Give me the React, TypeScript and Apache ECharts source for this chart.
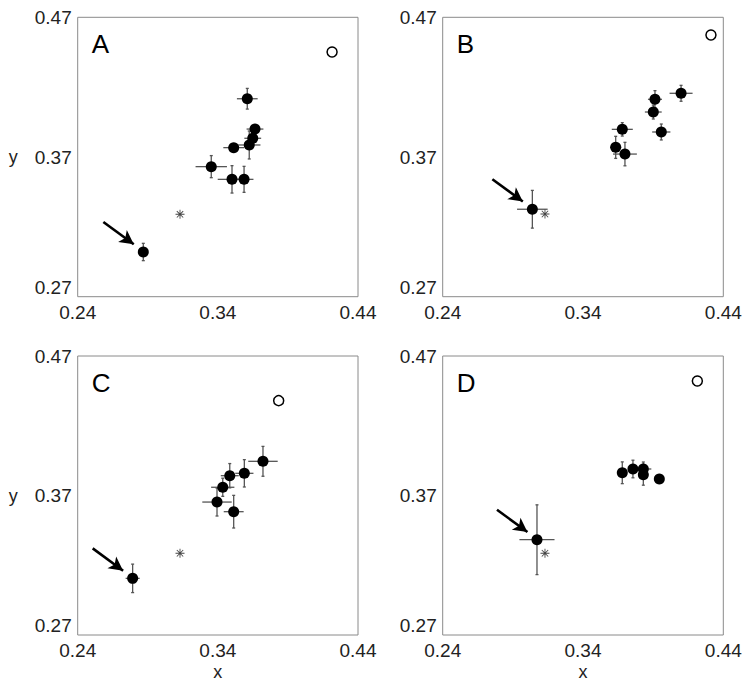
import React, { useEffect, useRef } from "react";
import * as echarts from "echarts";

// Axis ranges and tick labels
const xTicks = [0.24, 0.34, 0.44];
const yTicks = [0.27, 0.37, 0.47];
const panelLabels = ["A", "B", "C", "D"];

// Each point: [x, y, xErr, yErr]
const panelA_points = [
  [0.361, 0.4117, 0.0074, 0.0074],
  [0.3665, 0.39, 0.006, 0.003],
  [0.3649, 0.3834, 0.006, 0.003],
  [0.3624, 0.3786, 0.008, 0.01],
  [0.3513, 0.3767, 0.0074, 0.002],
  [0.3353, 0.3631, 0.0112, 0.0079],
  [0.3501, 0.354, 0.0102, 0.0098],
  [0.3587, 0.354, 0.0067, 0.0093],
];
const panelA_arrowPoint = [0.2868, 0.302, 0.003, 0.0062];
const panelA_star = [0.313, 0.329];
const panelA_open = [0.4215, 0.4452];

const panelB_points = [
  [0.4099, 0.4156, 0.0082, 0.0057],
  [0.3913, 0.4113, 0.005, 0.0062],
  [0.3901, 0.4022, 0.006, 0.005],
  [0.368, 0.3898, 0.0075, 0.0048],
  [0.3958, 0.3879, 0.0065, 0.0057],
  [0.3633, 0.3769, 0.004, 0.0079],
  [0.3699, 0.3721, 0.0085, 0.0084],
];
const panelB_arrowPoint = [0.3039, 0.3326, 0.0109, 0.0135];
const panelB_star = [0.3129, 0.3292];
const panelB_open = [0.4312, 0.4573];

const panelC_points = [
  [0.3722, 0.3945, 0.0105, 0.0107],
  [0.3589, 0.3859, 0.0065, 0.0098],
  [0.3485, 0.3842, 0.0064, 0.0087],
  [0.3435, 0.3759, 0.0083, 0.0065],
  [0.3394, 0.3653, 0.0105, 0.01],
  [0.3513, 0.3584, 0.0071, 0.0117],
];
const panelC_arrowPoint = [0.2792, 0.3106, 0.005, 0.0102];
const panelC_star = [0.313, 0.3286];
const panelC_open = [0.3834, 0.438];

const panelD_points = [
  [0.368, 0.3863, 0.003, 0.0078],
  [0.3756, 0.389, 0.003, 0.0063],
  [0.383, 0.389, 0.0057, 0.005],
  [0.383, 0.3849, 0.003, 0.0075],
  [0.3944, 0.3818, 0.002, 0.002],
];
const panelD_arrowPoint = [0.3072, 0.3383, 0.0125, 0.025];
const panelD_star = [0.3129, 0.3286];
const panelD_open = [0.4215, 0.4521];

// Arrow offsets (data units) relative to the highlighted point
const arrowTail = [-0.0285, 0.0215];
const arrowTip = [-0.0068, 0.0055];

const panels = [
  { points: panelA_points, arrow: panelA_arrowPoint, star: panelA_star, open: panelA_open },
  { points: panelB_points, arrow: panelB_arrowPoint, star: panelB_star, open: panelB_open },
  { points: panelC_points, arrow: panelC_arrowPoint, star: panelC_star, open: panelC_open },
  { points: panelD_points, arrow: panelD_arrowPoint, star: panelD_star, open: panelD_open },
];

const FONT = "Liberation Sans, Arial, Helvetica, sans-serif";

const asteriskPath =
  "path://M9 0L11 0L11 20L9 20Z M0 9L20 9L20 11L0 11Z M3.6 2.2L17.8 16.4L16.4 17.8L2.2 3.6Z M16.4 2.2L17.8 3.6L3.6 17.8L2.2 16.4Z";

export default function App() {
  const ref = useRef<HTMLDivElement>(null);

  useEffect(() => {
    if (!ref.current) return;
    const chart = echarts.init(ref.current, undefined, { renderer: "svg" });

    const gridPos = [
      { left: 77.7, top: 17.3, width: 280.3, height: 279.4 },
      { left: 442.7, top: 17.3, width: 280.6, height: 279.4 },
      { left: 77.7, top: 356, width: 280.3, height: 279 },
      { left: 442.7, top: 356, width: 280.6, height: 279 },
    ];

    const grids = gridPos.map((g) => ({
      ...g,
      show: true,
      borderColor: "#8a8a8a",
      borderWidth: 1,
      backgroundColor: "#fff",
    }));

    const xAxes = gridPos.map((_, i) => ({
      type: "value",
      gridIndex: i,
      min: 0.24,
      max: 0.44,
      name: i >= 2 ? "x" : "",
      nameLocation: "middle",
      nameGap: 28,
      nameTextStyle: { fontFamily: FONT, fontSize: 18, color: "#222" },
      axisLine: { show: false },
      axisTick: { show: false },
      splitLine: { show: false },
      axisLabel: {
        customValues: xTicks,
        formatter: (v: number) => v.toFixed(2),
        fontFamily: FONT,
        fontSize: 19,
        color: "#222",
        margin: 6,
      },
    }));

    const yAxes = gridPos.map((_, i) => ({
      type: "value",
      gridIndex: i,
      min: 0.27,
      max: 0.47,
      name: i % 2 === 0 ? "y" : "",
      nameLocation: "middle",
      nameGap: 60,
      nameRotate: 0,
      nameTextStyle: { fontFamily: FONT, fontSize: 18, color: "#222" },
      axisLine: { show: false },
      axisTick: { show: false },
      splitLine: { show: false },
      axisLabel: {
        customValues: yTicks,
        formatter: (v: number) => v.toFixed(2),
        fontFamily: FONT,
        fontSize: 19,
        color: "#222",
        margin: 6,
        verticalAlignMinLabel: "bottom",
      },
    }));

    const errStyle = { stroke: "#555", lineWidth: 1.3 };
    const renderErr = (params: any, api: any) => {
      const x = api.value(0);
      const y = api.value(1);
      const ex = api.value(2);
      const ey = api.value(3);
      const l = api.coord([x - ex, y]);
      const r = api.coord([x + ex, y]);
      const t = api.coord([x, y + ey]);
      const b = api.coord([x, y - ey]);
      const c = 1.5;
      return {
        type: "group",
        children: [
          { type: "line", shape: { x1: l[0], y1: l[1], x2: r[0], y2: r[1] }, style: errStyle },
          { type: "line", shape: { x1: t[0], y1: t[1], x2: b[0], y2: b[1] }, style: errStyle },
          { type: "line", shape: { x1: t[0] - c, y1: t[1], x2: t[0] + c, y2: t[1] }, style: errStyle },
          { type: "line", shape: { x1: b[0] - c, y1: b[1], x2: b[0] + c, y2: b[1] }, style: errStyle },
        ],
      };
    };

    const series: any[] = [];
    panels.forEach((p, i) => {
      const allErr = [...p.points, p.arrow];
      series.push({
        type: "custom",
        xAxisIndex: i,
        yAxisIndex: i,
        renderItem: renderErr,
        encode: { x: 0, y: 1 },
        data: allErr,
        silent: true,
        z: 1,
      });
      series.push({
        type: "scatter",
        xAxisIndex: i,
        yAxisIndex: i,
        symbol: "circle",
        symbolSize: 11,
        itemStyle: { color: "#000", opacity: 1 },
        data: p.points.map((d) => [d[0], d[1]]),
        silent: true,
        z: 3,
      });
      series.push({
        type: "scatter",
        xAxisIndex: i,
        yAxisIndex: i,
        symbol: "circle",
        symbolSize: 11,
        itemStyle: { color: "#000", opacity: 1 },
        data: [[p.arrow[0], p.arrow[1]]],
        silent: true,
        z: 3,
        markLine: {
          silent: true,
          symbol: ["none", "arrow"],
          symbolSize: [11, 14],
          label: { show: false },
          lineStyle: { color: "#000", width: 2.6, type: "solid", opacity: 1 },
          data: [
            [
              { coord: [p.arrow[0] + arrowTail[0], p.arrow[1] + arrowTail[1]] },
              { coord: [p.arrow[0] + arrowTip[0], p.arrow[1] + arrowTip[1]] },
            ],
          ],
        },
      });
      series.push({
        type: "scatter",
        xAxisIndex: i,
        yAxisIndex: i,
        symbol: asteriskPath,
        symbolSize: 9,
        itemStyle: { color: "#444", opacity: 1 },
        data: [p.star],
        silent: true,
        z: 3,
      });
      series.push({
        type: "scatter",
        xAxisIndex: i,
        yAxisIndex: i,
        symbol: "circle",
        symbolSize: 10,
        itemStyle: { color: "#fff", borderColor: "#000", borderWidth: 1.5, opacity: 1 },
        data: [p.open],
        silent: true,
        z: 3,
      });
    });

    const graphic = panelLabels.map((t, i) => ({
      type: "text",
      x: gridPos[i].left + 14,
      y: gridPos[i].top + 14,
      style: {
        text: t,
        fontFamily: FONT,
        fontSize: 26,
        fill: "#000",
        textVerticalAlign: "top",
      },
      silent: true,
    }));

    chart.setOption({
      animation: false,
      backgroundColor: "#fff",
      grid: grids,
      xAxis: xAxes,
      yAxis: yAxes,
      series,
      graphic,
    });

    return () => chart.dispose();
  }, []);

  return (
    <div
      ref={ref}
      style={{ position: "fixed", left: 0, top: 0, width: 750, height: 687, background: "#fff" }}
    />
  );
}
